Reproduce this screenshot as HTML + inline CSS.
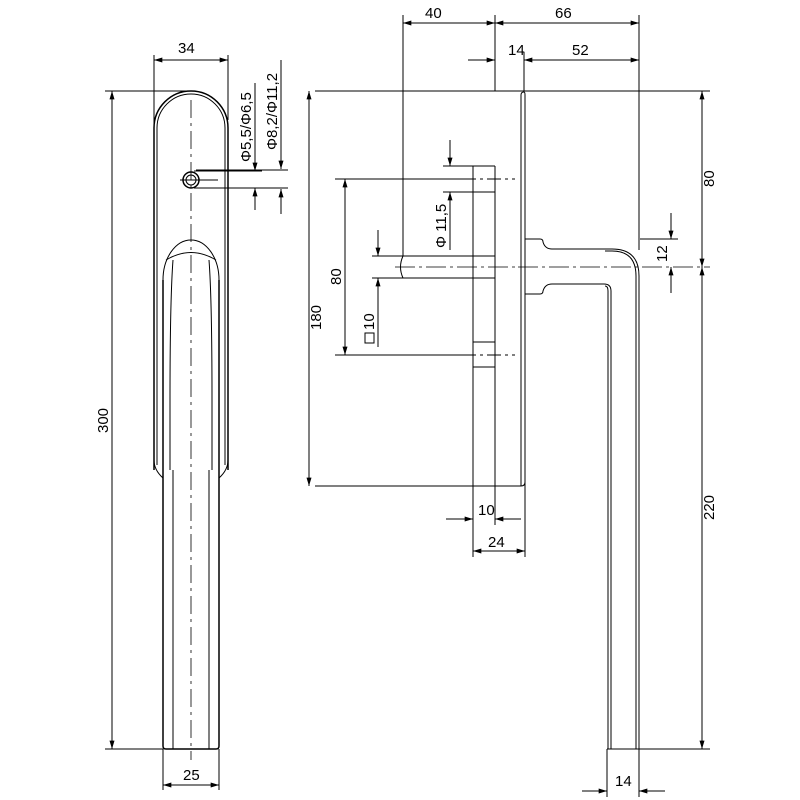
<!DOCTYPE html>
<html><head><style>body{margin:0;background:#fff}svg{display:block}text{font-family:"Liberation Sans",sans-serif;font-size:15px;fill:#000}</style></head><body>
<svg width="800" height="800" viewBox="0 0 800 800" xmlns="http://www.w3.org/2000/svg">
<defs><marker id="a" viewBox="0 0 10 6" refX="10" refY="3" markerWidth="16" markerHeight="5" markerUnits="userSpaceOnUse" orient="auto-start-reverse"><path d="M0,0L10,3L0,6z" fill="#000"/></marker></defs>
<g stroke="#000" fill="none" stroke-width="1">
<!-- LEFT VIEW -->
<path d="M154,470V128A37,37 0 0 1 228,128V470" stroke-width="1.5"/>
<path d="M157,465V128A34,34 0 0 1 225,128V465"/>
<path d="M154,460Q154,470 163,478M228,460Q228,470 219,478"/>
<path d="M163,280A28,40 0 0 1 219,280"/>
<path d="M163,280V746Q163,749 166,749H216Q219,749 219,746V280" stroke-width="1.5"/>
<path d="M166,260Q191,245 216,260"/>
<path d="M173,260Q170,300 170,400V470M209,260Q212,300 212,400V470M173,470V749M209,470V749"/>
<circle cx="191" cy="180" r="8" stroke-width="1.5"/><circle cx="191" cy="180" r="5"/>
<path d="M191,100V760" stroke-dasharray="18,5,3,5" stroke-width="0.8"/>
<path d="M180,180H218"/>
<!-- dims left -->
<path d="M154,55V128M228,55V120"/>
<path d="M154,60H228" marker-start="url(#a)" marker-end="url(#a)"/>
<path d="M105,91H191M105,749H163"/>
<path d="M112,91V749" marker-start="url(#a)" marker-end="url(#a)"/>
<path d="M163,749V790M219,749V790"/>
<path d="M163,785H219" marker-start="url(#a)" marker-end="url(#a)"/>
<path d="M194,171H262M194,188H262M196,170H288M196,188H288"/>
<path d="M255,83V146" /><path d="M255,130V171" marker-end="url(#a)"/><path d="M255,210V188" marker-end="url(#a)"/>
<path d="M281,60V135"/><path d="M281,130V169" marker-end="url(#a)"/><path d="M281,214V189" marker-end="url(#a)"/>
<!-- RIGHT VIEW -->
<path d="M315,91H710"/>
<path d="M521,486V95Q521,92 524,92Q525,92 525,95V486"/>
<path d="M315,486H521Q525,486 525,482"/>
<path d="M473,166H495M473,192H495M473,166V486M495,166V486M473,342H495M473,367H495"/>
<path d="M403,256H495M403,278H495"/>
<path d="M403,256Q398,267 403,278"/>
<path d="M525,239H540Q543,239 543,242Q545,249 552,249H612Q639,249 639,276V749"/>
<path d="M605,251H612Q636,251 636,276V749"/>
<path d="M525,294H540Q543,294 543,291Q545,284 552,284H604Q611,284 611,291V749"/>
<path d="M605,286Q608,286 608,291V749"/>
<path d="M607,749H639"/>
<path d="M395,267H517M518,267H710" stroke-dasharray="20,4,3,4" stroke-width="0.8"/>
<path d="M462,179H515M462,355H515" stroke-dasharray="14,4,3,4"/>
<!-- dims right -->
<path d="M403,15V256M495,15V91M639,15V250M524,52V91"/>
<path d="M403,23H495" marker-start="url(#a)" marker-end="url(#a)"/>
<path d="M495,23H639" marker-start="url(#a)" marker-end="url(#a)"/>
<path d="M468,60H495" marker-end="url(#a)"/>
<path d="M524,60H639" marker-start="url(#a)" marker-end="url(#a)"/>
<path d="M335,179H462M335,355H462"/>
<path d="M345,179V355" marker-start="url(#a)" marker-end="url(#a)"/>
<path d="M309,91V486" marker-start="url(#a)" marker-end="url(#a)"/>
<path d="M443,166H473M443,192H473"/>
<path d="M450,140V166" marker-end="url(#a)"/><path d="M450,250V192" marker-end="url(#a)"/>
<path d="M372,256H403M372,278H403"/>
<path d="M378,230V256" marker-end="url(#a)"/><path d="M378,347V278" marker-end="url(#a)"/>
<path d="M640,239H678"/>
<path d="M671,213V239" marker-end="url(#a)"/><path d="M671,293V267" marker-end="url(#a)"/>
<path d="M702,91V267" marker-start="url(#a)" marker-end="url(#a)"/>
<path d="M702,267V749" marker-start="url(#a)" marker-end="url(#a)"/>
<path d="M639,749H710"/>
<path d="M473,486V557M495,486V525M525,486V557"/>
<path d="M446,519H473" marker-end="url(#a)"/><path d="M521,519H495" marker-end="url(#a)"/>
<path d="M473,551H525" marker-start="url(#a)" marker-end="url(#a)"/>
<path d="M607,749V797M639,749V797"/>
<path d="M582,791H607" marker-end="url(#a)"/><path d="M665,791H639" marker-end="url(#a)"/>
<rect x="365" y="333" width="9" height="10"/>
</g>
<text x="178" y="53">34</text>
<text x="425" y="18">40</text>
<text x="555" y="18">66</text>
<text x="508" y="55" font-size="14">14</text>
<text x="572" y="55">52</text>
<text x="183" y="780">25</text>
<text x="478" y="515" font-size="14">10</text>
<text x="488" y="547">24</text>
<text x="615" y="786" font-size="14">14</text>
<text transform="translate(251,162) rotate(-90)" font-size="14">Φ5,5/Φ6,5</text>
<text transform="translate(277,150) rotate(-90)" font-size="14">Φ8,2/Φ11,2</text>
<text transform="translate(108,433) rotate(-90)">300</text>
<text transform="translate(321,330) rotate(-90)">180</text>
<text transform="translate(341,285) rotate(-90)">80</text>
<text transform="translate(446,248) rotate(-90)" font-size="14">Φ 11,5</text>
<text transform="translate(374,330) rotate(-90)" font-size="14">10</text>
<text transform="translate(667,262) rotate(-90)" font-size="14">12</text>
<text transform="translate(714,187) rotate(-90)">80</text>
<text transform="translate(714,520) rotate(-90)">220</text>
</svg>
</body></html>
